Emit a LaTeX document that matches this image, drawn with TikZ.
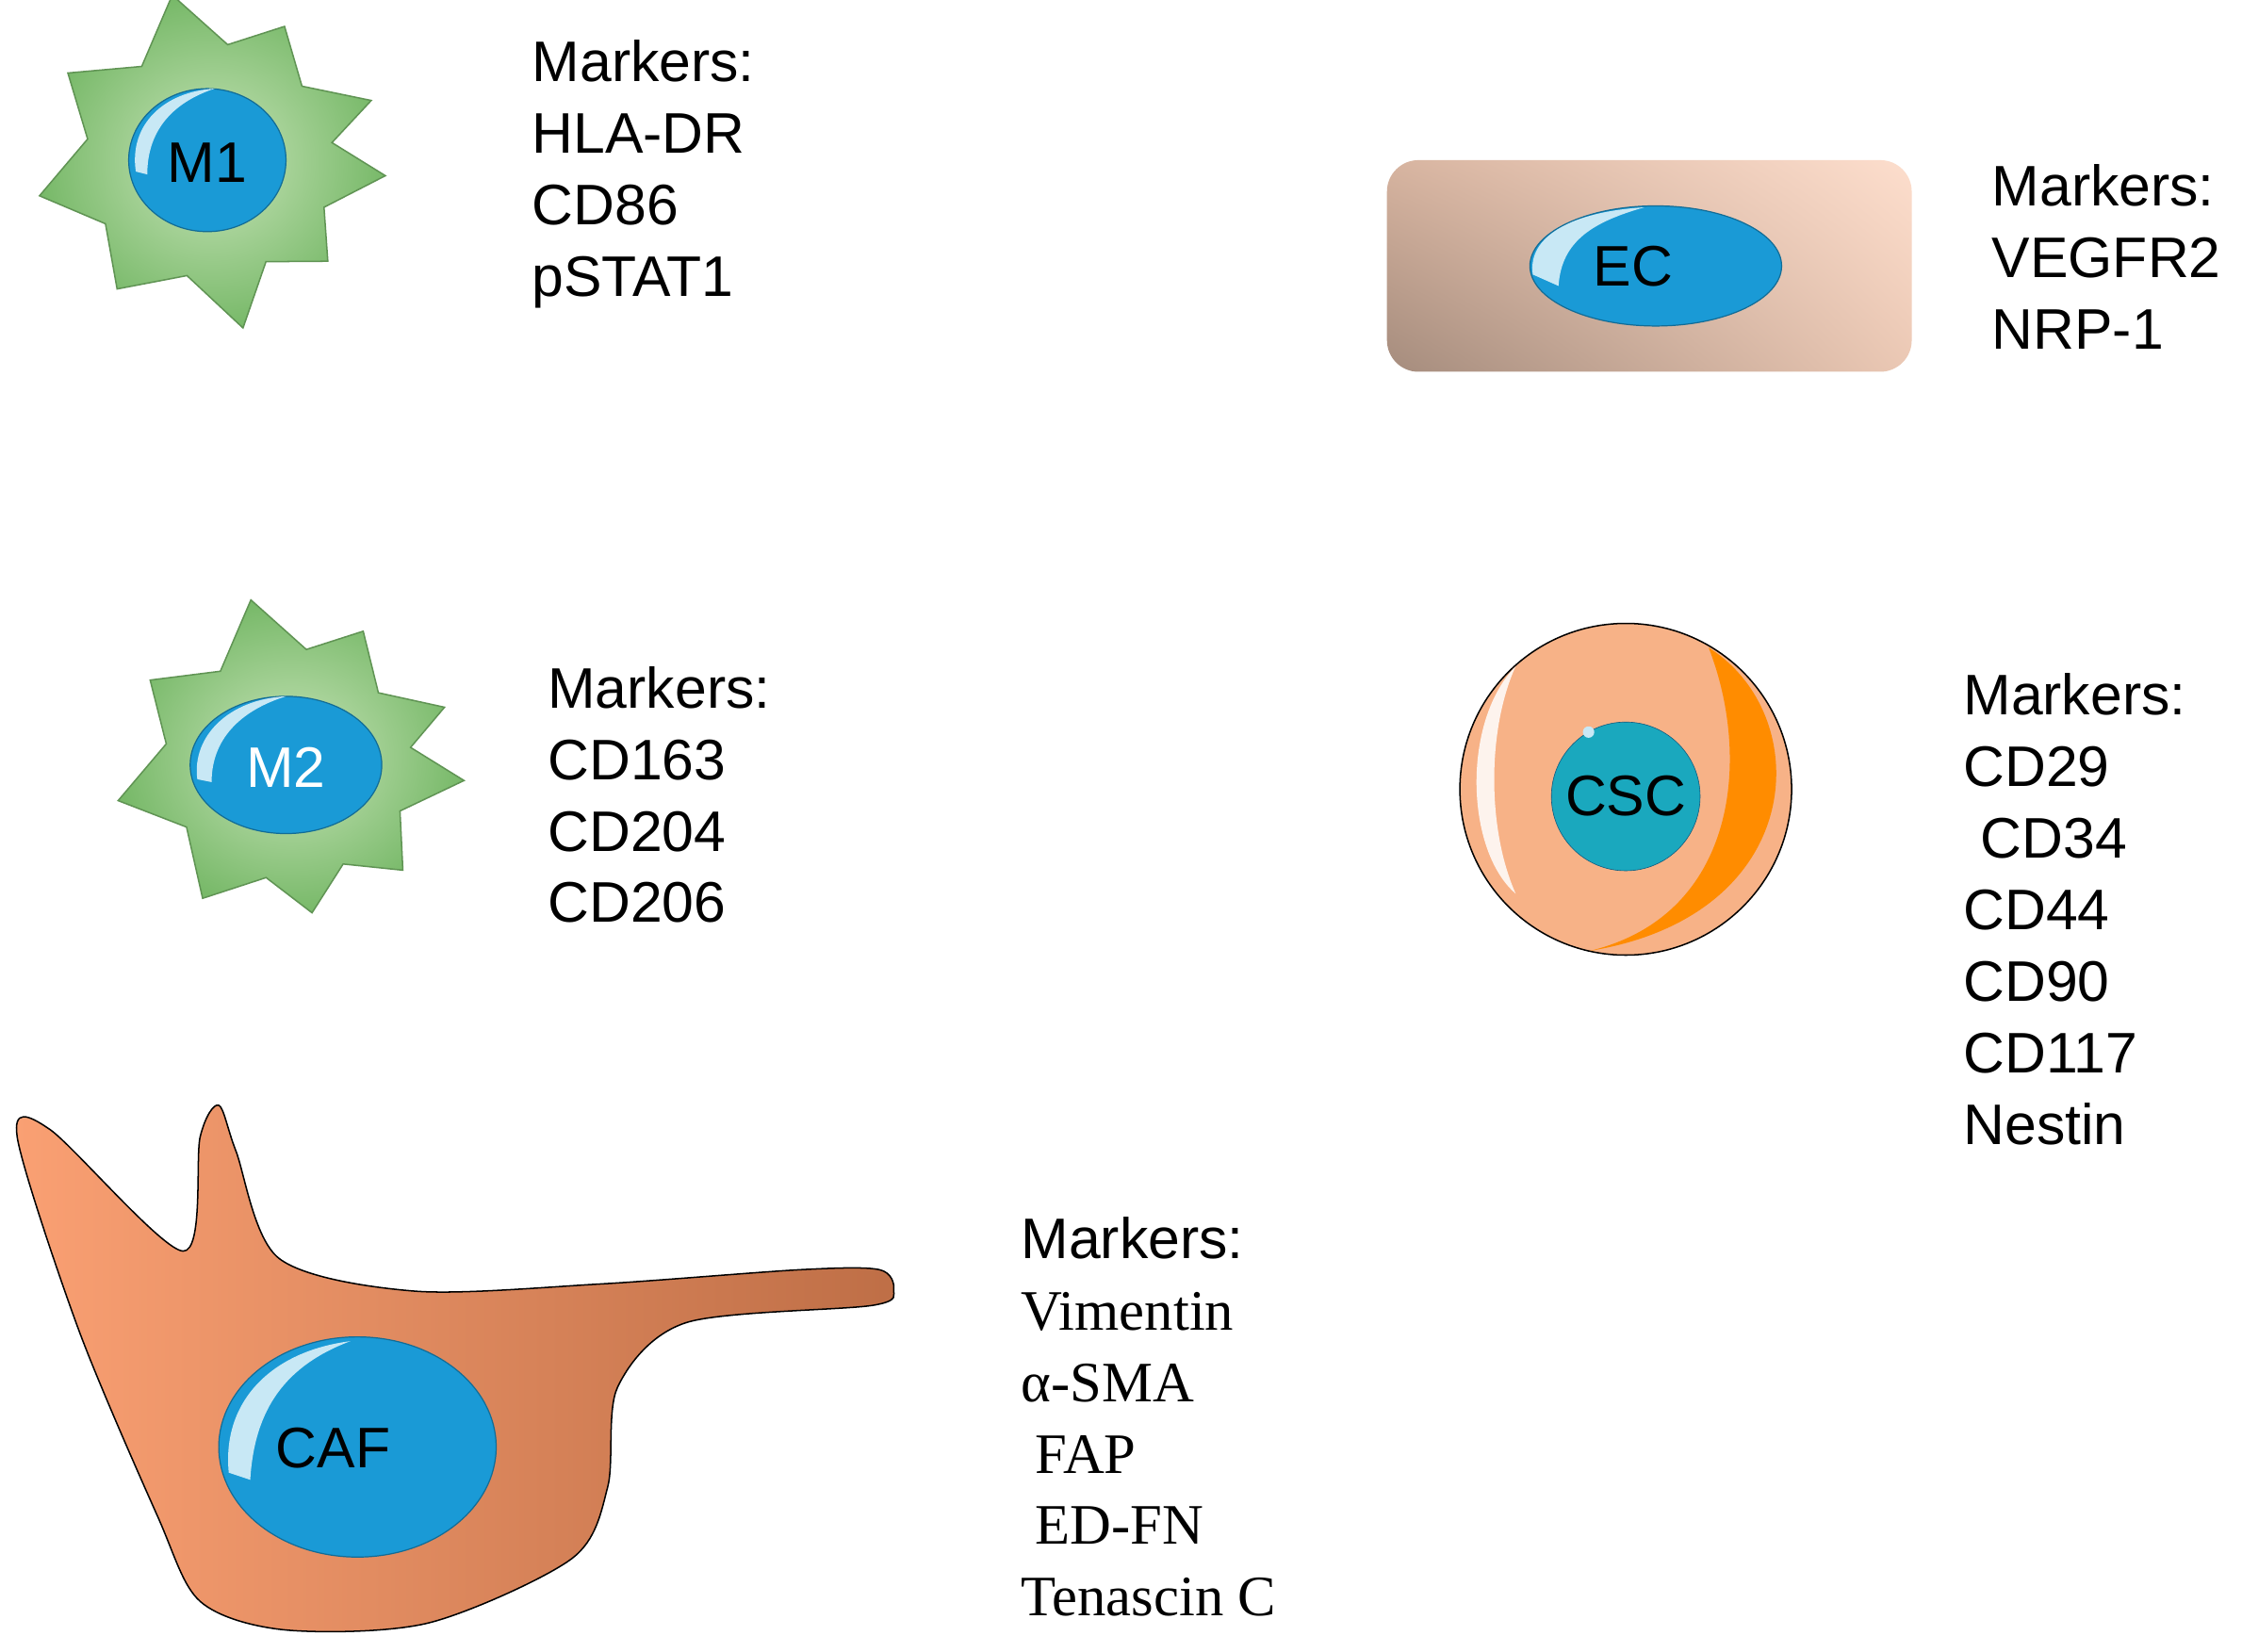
\documentclass[tikz,border=0pt]{standalone}
\usepackage{fontspec}
\usetikzlibrary{shadings}
\setmainfont{Liberation Sans}
\newfontfamily\serifx{Liberation Serif}
\definecolor{nuc}{RGB}{26,154,214}
\definecolor{hl}{RGB}{200,232,245}
\definecolor{gin}{RGB}{200,228,185}
\definecolor{gout}{RGB}{120,185,105}
\definecolor{ecll}{RGB}{165,140,125}
\definecolor{ecur}{RGB}{253,222,205}
\definecolor{eclr}{RGB}{235,200,180}
\definecolor{ecul}{RGB}{215,180,160}
\definecolor{cscbody}{RGB}{247,178,135}
\definecolor{cscnuc}{RGB}{26,168,190}
\definecolor{cafl}{RGB}{250,160,115}
\definecolor{cafr}{RGB}{190,110,70}
\begin{document}
\begin{tikzpicture}[x=1pt,y=-1pt,
  txt/.style={anchor=north west,inner sep=0pt,align=left,font=\fontsize{40}{50}\selectfont},
  lab/.style={font=\fontsize{40}{48}\selectfont,inner sep=0pt},
  mac/.style={draw=gout!80!black,line width=1pt,inner color=gin,outer color=gout},
  nucleus/.style={fill=nuc,draw=nuc!70!black,line width=0.8pt}]
\useasboundingbox (0,0) rectangle (1568,1155);
\fill[white] (0,0) rectangle (1568,1155);
% M1
\begin{scope}[shift={(145,112)}]
\path[mac] (5:125)--(22:88)--(40:110)--(60:82)--(78:120)--(100:82)--(125:110)--(148:84)--(168:120)--(190:85)--(212:115)--(235:80)--(258:118)--(280:82)--(300:108)--(322:84)--(340:122)--(352:88)--cycle;
\draw[nucleus] (0,0) ellipse (55 and 50);
\fill[hl] (-50,8) .. controls (-55,-25) and (-30,-48) .. (5,-50) .. controls (-25,-40) and (-42,-20) .. (-42,10) -- cycle;
\node[lab] (m1) at (0,2) {M1};
\end{scope}
% M2
\begin{scope}[shift={(200,535)}]
\path[mac] (5:125)--(22:86)--(42:110)--(60:80)--(80:105)--(100:80)--(122:110)--(148:82)--(168:120)--(190:85)--(212:112)--(235:80)--(258:118)--(280:82)--(300:108)--(322:82)--(340:118)--(352:88)--cycle;
\draw[nucleus] (0,0) ellipse (67 and 48);
\fill[hl] (-62,10) .. controls (-66,-20) and (-40,-46) .. (0,-48) .. controls (-32,-38) and (-52,-18) .. (-52,12) -- cycle;
\node[lab,white] (m2) at (0,2) {M2};
\end{scope}
% EC
\shade[rounded corners=22pt,lower left=ecll,upper right=ecur,lower right=eclr,upper left=ecul] (970,112) rectangle (1337,260);
\draw[nucleus] (1158,186) ellipse (88 and 42);
\fill[hl] (1072,192) .. controls (1068,165) and (1100,148) .. (1150,145) .. controls (1115,155) and (1092,168) .. (1090,200) -- cycle;
\node[lab] (ec) at (1142,186) {EC};
% CSC
\draw[fill=cscbody,line width=1pt] (1137,552) circle (116);
\fill[orange!90!yellow] (1195,453) .. controls (1270,500) and (1265,640) .. (1112,665) .. controls (1215,640) and (1225,530) .. (1195,453) -- cycle;
\fill[white,opacity=0.85] (1060,466) .. controls (1022,505) and (1025,595) .. (1060,625) .. controls (1040,580) and (1040,510) .. (1060,466);
\draw[fill=cscnuc,draw=nuc!60!black] (1137,557) circle (52);
\fill[hl] (1111,512) circle (4);
\node[lab] (csc) at (1137,557) {CSC};
% CAF
\shade[draw=black,line width=1pt,left color=cafl,right color=cafr]
 plot[smooth cycle,tension=0.5] coordinates {(12,795) (35,790) (128,875) (140,795) (153,773) (165,805) (195,880) (290,903) (420,898) (560,888) (615,888) (625,902) (610,913) (480,925) (432,970) (425,1040) (400,1090) (300,1135) (200,1140) (140,1120) (110,1060) (55,930)};
\draw[nucleus] (250,1012) ellipse (97 and 77);
\fill[hl] (160,1030) .. controls (155,980) and (190,945) .. (245,938) .. controls (200,955) and (178,985) .. (175,1035) -- cycle;
\node[lab] (caf) at (233,1013) {CAF};
% markers
\node[txt] (t1) at (372,28) {Markers:\\HLA-DR\\CD86\\pSTAT1};
\node[txt] (t2) at (383,466) {Markers:\\CD163\\CD204\\CD206};
\node[txt] (t3) at (1393,115) {Markers:\\VEGFR2\\NRP-1};
\node[txt] (t4) at (1373,471) {Markers:\\CD29\\\hspace*{12pt}CD34\\CD44\\CD90\\CD117\\Nestin};
\node[txt] (t5) at (714,851) {Markers:\\{\serifx Vimentin}\\{\serifx α-SMA}\\{\serifx\hspace*{10pt}FAP}\\{\serifx\hspace*{10pt}ED-FN}\\{\serifx Tenascin C}};
\end{tikzpicture}
\end{document}
